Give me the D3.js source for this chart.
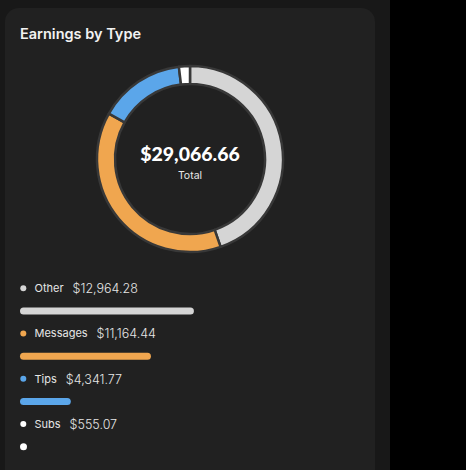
<!DOCTYPE html>
<html><head><meta charset="utf-8">
<script src="https://cdn.jsdelivr.net/npm/d3@7"></script>
<style>
html,body{margin:0;padding:0;background:#000;}
svg{display:block;}
</style></head>
<body>
<svg id="chart" width="466" height="470"></svg>
<script>
const categories = ["Other", "Messages", "Tips", "Subs"];
const values = [12964.28, 11164.44, 4341.77, 555.07];
const barPercent = [51.0, 38.4, 14.9, 1.9];
const colors = ["#d5d5d5", "#f0a64f", "#5ba6ea", "#ffffff"];
const totalValue = 29066.66;
const title = "Earnings by Type";
const totalLabel = "Total";

const svg = d3.select("#chart");
const fmt = v => "$" + d3.format(",.2f")(v);

// backgrounds
svg.append("rect").attr("x",0).attr("y",0).attr("width",390).attr("height",470).attr("fill","#181818");
svg.append("rect").attr("x",5).attr("y",8).attr("width",370).attr("height",490).attr("rx",14).attr("fill","#212121");

svg.append("text").attr("x",20).attr("y",39).text(title)
  .attr("font-family","Inter, 'Open Sans', sans-serif").attr("font-weight",600)
  .attr("font-size",14.5).attr("fill","#f2f2f2");

// donut
const data = categories.map((c,i)=>({name:c, value:values[i], color:colors[i], pct:barPercent[i]}));
const pie = d3.pie().value(d=>d.value).sort(null);
const arc = d3.arc().innerRadius(75).outerRadius(93);
const g = svg.append("g").attr("transform","translate(190,159)");
g.selectAll("path").data(pie(data)).join("path")
  .attr("d",arc).attr("fill",d=>d.data.color)
  .attr("stroke","#383838").attr("stroke-width",2.5).attr("stroke-linejoin","round");

g.append("text").attr("x",0).attr("y",2).attr("text-anchor","middle")
  .text(fmt(totalValue)).attr("font-family","Lato, sans-serif").attr("font-weight",900)
  .attr("font-size",19.5).attr("fill","#ffffff");
g.append("text").attr("x",0).attr("y",20).attr("text-anchor","middle")
  .text(totalLabel).attr("font-family","Inter, sans-serif").attr("font-weight",400)
  .attr("font-size",10.5).attr("fill","#e8e8e8");

// legend
const y = d3.scaleBand().domain(categories).range([266, 447]).padding(0);
const x = d3.scaleLinear().domain([0,100]).range([0,341]);
const barH = 7;
const row = svg.append("g").selectAll("g").data(data).join("g")
  .attr("transform",d=>`translate(0,${y(d.name)})`);
row.append("circle").attr("cx",23.3).attr("cy",22.3).attr("r",3).attr("fill",d=>d.color);
row.append("text").attr("x",34.5).attr("y",26)
  .text(d=>d.name).attr("font-family","Inter, sans-serif").attr("font-weight",400)
  .attr("font-size",11).attr("fill","#e6e6e6");
row.each(function(d){
  const gg = d3.select(this);
  const w = gg.select("text").node().getComputedTextLength();
  gg.append("text").attr("x",34.5+w+9).attr("y",27)
    .text(fmt(d.value)).attr("font-family","Inter, sans-serif").attr("font-weight",300)
    .attr("font-size",12.5).attr("fill","#e6e6e6");
});
row.append("rect").attr("x",20).attr("y",41.5)
  .attr("width",d=>Math.max(barH, x(d.pct))).attr("height",barH)
  .attr("rx",barH/2).attr("fill",d=>d.color);
</script>
</body></html>
